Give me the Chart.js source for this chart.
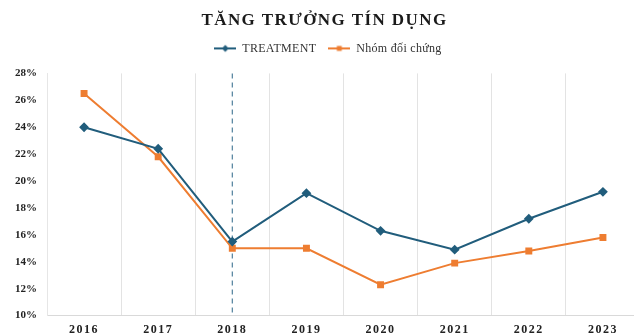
<!DOCTYPE html>
<html>
<head>
<meta charset="utf-8">
<script src="https://cdn.jsdelivr.net/npm/chart.js@4.4.0/dist/chart.umd.min.js"></script>
<style>
    html, body { margin: 0; padding: 0; background: #fff; overflow: hidden; }
    #wrap { width: 634px; height: 336px; overflow: hidden; }
    #wrap div { width: 646px; height: 336px; position: relative; }
</style>
</head>
<body>
<div id="wrap"><div><canvas id="graphCanvas"></canvas></div></div>
<script>
var years = ['2016', '2017', '2018', '2019', '2020', '2021', '2022', '2023'];
var treatment = [24.0, 22.4, 15.5, 19.1, 16.3, 14.9, 17.2, 19.2];
var control = [26.5, 21.8, 15.0, 15.0, 12.3, 13.9, 14.8, 15.8];
var yTicks = [10, 12, 14, 16, 18, 20, 22, 24, 26, 28];
var markYear = '2018';

var serif = "'Liberation Serif', 'DejaVu Serif', serif";

// small "line with marker" symbol for the legend
function legendIcon(color, style) {
    var c = document.createElement('canvas');
    c.width = 22;
    c.height = 10;
    var g = c.getContext('2d');
    g.strokeStyle = color;
    g.fillStyle = color;
    g.lineWidth = 2;
    g.beginPath();
    g.moveTo(0, 5);
    g.lineTo(22, 5);
    g.stroke();
    Chart.helpers.drawPoint(g, { pointStyle: style, radius: 3.5, borderWidth: 0 }, 11, 5);
    return c;
}

function spaced(fn, spacing) {
    return function () {
        this.ctx.save();
        this.ctx.letterSpacing = spacing;
        fn.apply(this, arguments);
        this.ctx.restore();
    };
}

// dashed line at the 2018 mark + letter spacing for title / years
var markLine = {
    id: 'markLine',
    afterInit: function (chart) {
        var fit = chart.legend.fit;
        chart.legend.fit = function () {
            fit.call(this);
            this.height += 9;
        };
    },
    afterLayout: function (chart) {
        if (chart.$spaced) return;
        chart.$spaced = true;
        chart.titleBlock.draw = spaced(chart.titleBlock.draw, '1.4px');
        chart.scales.x.drawLabels = spaced(chart.scales.x.drawLabels, '1.5px');
        chart.legend.draw = spaced(chart.legend.draw, '0.3px');
    },
    beforeDatasetsDraw: function (chart) {
        var ctx = chart.ctx;
        var x = chart.scales.x.getPixelForValue(years.indexOf(markYear));
        ctx.save();
        ctx.strokeStyle = '#4f7f9c';
        ctx.lineWidth = 1.2;
        ctx.setLineDash([5, 4]);
        ctx.beginPath();
        ctx.moveTo(x, chart.chartArea.top);
        ctx.lineTo(x, chart.chartArea.bottom);
        ctx.stroke();
        ctx.restore();
    }
};

var chartdata = {
    labels: years,
    datasets: [
        {
            label: 'TREATMENT',
            borderColor: '#215d7c',
            backgroundColor: '#215d7c',
            borderWidth: 2,
            pointStyle: 'rectRot',
            pointRadius: 3.5,
            data: treatment
        },
        {
            label: 'Nhóm đối chứng',
            borderColor: '#ee7d31',
            backgroundColor: '#ee7d31',
            borderWidth: 2,
            pointStyle: 'rect',
            pointRadius: 3.5,
            data: control
        }
    ]
};

var graph = new Chart(document.getElementById('graphCanvas'), {
    type: 'line',
    data: chartdata,
    plugins: [markLine],
    options: {
        responsive: true,
        maintainAspectRatio: false,
        animation: false,
        layout: { padding: { left: 3, right: 0, top: 4, bottom: -8 } },
        plugins: {
            title: {
                display: true,
                text: 'TĂNG TRƯỞNG TÍN DỤNG',
                color: '#1a1a1a',
                font: { family: serif, size: 17, weight: 'bold' },
                padding: { top: 6, bottom: 0 }
            },
            legend: {
                labels: {
                    usePointStyle: true,
                    pointStyleWidth: 22,
                    boxHeight: 10,
                    padding: 12,
                    color: '#333',
                    font: { family: serif, size: 12 },
                    generateLabels: function (chart) {
                        return chart.data.datasets.map(function (ds, i) {
                            return {
                                text: ds.label,
                                fontColor: '#333',
                                pointStyle: legendIcon(ds.borderColor, ds.pointStyle),
                                strokeStyle: ds.borderColor,
                                fillStyle: ds.borderColor,
                                lineWidth: 0,
                                datasetIndex: i
                            };
                        });
                    }
                }
            },
            tooltip: { enabled: false }
        },
        scales: {
            x: {
                offset: true,
                grid: { offset: true, color: '#e3e3e3', drawTicks: false },
                border: { color: '#d9d9d9' },
                ticks: {
                    color: '#222',
                    padding: 7,
                    font: { family: serif, size: 12, weight: 'bold' }
                }
            },
            y: {
                min: 10,
                max: 28,
                afterBuildTicks: function (axis) {
                    axis.ticks = yTicks.map(function (v) { return { value: v }; });
                },
                afterFit: function (axis) {
                    axis.width = 44;
                },
                grid: { display: false, drawTicks: false },
                border: { color: '#e6e6e6' },
                ticks: {
                    color: '#222',
                    padding: 10,
                    font: { family: serif, size: 11, weight: 'bold' },
                    callback: function (v) { return v + '%'; }
                }
            }
        }
    }
});
</script>
</body>
</html>
